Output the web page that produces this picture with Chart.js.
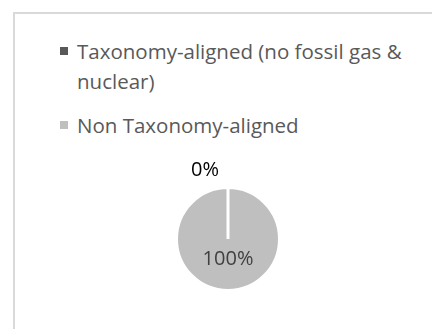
<!DOCTYPE html>
<html>
<head>
<meta charset="utf-8">
<script src="https://cdn.jsdelivr.net/npm/chart.js@4"></script>
<style>
  html, body { margin: 0; padding: 0; background: #fff; }
  #wrap { position: relative; width: 432px; height: 329px; overflow: hidden; }
  #frame { position: absolute; left: 13px; top: 12px; width: 440px; height: 340px;
           border: 2px solid #d9d9d9; box-sizing: border-box; }
  #legend { position: absolute; left: 60px; top: 36px; width: 360px;
            font-family: "Open Sans", sans-serif; font-size: 20.5px; color: #595959; line-height: 30px; }
  .item { position: relative; padding-left: 17px; margin-bottom: 14px; }
  .box { position: absolute; left: 0; top: 11px; width: 8px; height: 8px; }
  #c { position: absolute; left: 0; top: 0; }
</style>
</head>
<body>
<div id="wrap">
  <div id="frame"></div>
  <div id="legend"></div>
  <canvas id="c" width="432" height="329"></canvas>
</div>
<script>
const categorias = ['Taxonomy-aligned (no fossil gas & nuclear)', 'Non Taxonomy-aligned'];
const valores = [0, 100];
const rotulos = ['0%', '100%'];
const cores = ['#595959', '#bfbfbf'];

// rótulos de dados (estilo Excel)
const rotulosPlugin = {
    id: 'rotulos',
    afterDatasetsDraw(chart) {
        const ctx = chart.ctx;
        const arcos = chart.getDatasetMeta(0).data;
        ctx.save();
        ctx.font = '20px "Open Sans", sans-serif';
        ctx.textAlign = 'center';
        ctx.textBaseline = 'middle';
        arcos.forEach(function(arco, i) {
            const p = arco.getProps(['x', 'y', 'startAngle', 'endAngle', 'outerRadius']);
            const ang = (p.startAngle + p.endAngle) / 2;
            let x, y;
            if (valores[i] === 0) {
                x = p.x + Math.cos(ang) * (p.outerRadius + 17) - 23;
                y = p.y + Math.sin(ang) * (p.outerRadius + 17);
                ctx.fillStyle = '#000000';
            } else {
                x = p.x + Math.cos(ang) * p.outerRadius * 0.4;
                y = p.y + Math.sin(ang) * p.outerRadius * 0.4;
                ctx.fillStyle = '#404040';
            }
            ctx.fillText(rotulos[i], x, y);
        });
        ctx.restore();
    }
};

const grafico = new Chart(document.getElementById('c').getContext('2d'), {
    type: 'pie',
    data: {
        labels: categorias,
        datasets: [{
            data: valores,
            backgroundColor: cores,
            borderColor: '#ffffff',
            borderWidth: 3
        }]
    },
    options: {
        responsive: false,
        animation: false,
        layout: { padding: { left: 175, right: 151, top: 186, bottom: 37 } },
        plugins: { legend: { display: false }, tooltip: { enabled: false } }
    },
    plugins: [rotulosPlugin]
});

// legenda em HTML a partir dos itens do próprio gráfico
const legenda = document.getElementById('legend');
grafico.options.plugins.legend.labels.generateLabels(grafico).forEach(function(item) {
    const div = document.createElement('div');
    div.className = 'item';
    const box = document.createElement('span');
    box.className = 'box';
    box.style.background = item.fillStyle;
    div.appendChild(box);
    div.appendChild(document.createTextNode(item.text));
    legenda.appendChild(div);
});
</script>
</body>
</html>
